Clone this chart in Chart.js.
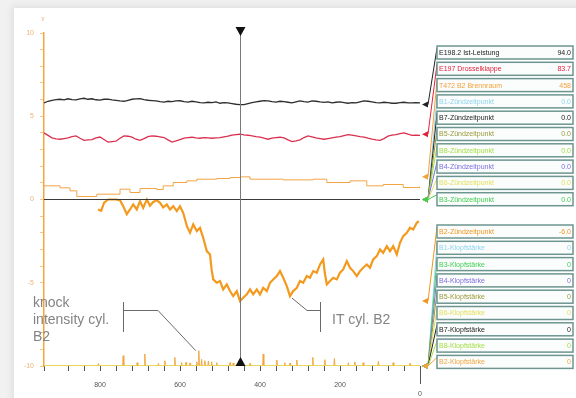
<!DOCTYPE html>
<html>
<head>
<meta charset="utf-8">
<script src="https://cdn.jsdelivr.net/npm/chart.js@4.4.1/dist/chart.umd.min.js"></script>
<style>
  html, body { margin: 0; padding: 0; background: #f1f1f1; }
  #card { position: absolute; left: 14px; top: 8px; width: 620px; height: 420px; background: #fff;
          box-shadow: -2px -2px 7px rgba(0,0,0,0.08); }
  #chart { position: absolute; left: 0; top: 0; }
</style>
</head>
<body>
<div id="card"></div>
<canvas id="chart" width="576" height="398"></canvas>
<script>
// E198.2 Ist-Leistung (black) and E197 Drosselklappe (red), sampled every 10 units
const powerX = [940, 930, 920, 910, 900, 890, 880, 870, 860, 850,
                840, 830, 820, 810, 800, 790, 780, 770, 760, 750,
                740, 730, 720, 710, 700, 690, 680, 670, 660, 650,
                640, 630, 620, 610, 600, 590, 580, 570, 560, 550,
                540, 530, 520, 510, 500, 490, 480, 470, 460, 450,
                440, 430, 420, 410, 400, 390, 380, 370, 360, 350,
                340, 330, 320, 310, 300, 290, 280, 270, 260, 250,
                240, 230, 220, 210, 200, 190, 180, 170, 160, 150,
                140, 130, 120, 110, 100, 90, 80, 70, 60, 50,
                40, 30, 20, 10, 0];
const powerY = [5.80, 5.90, 5.95, 6.00, 6.02, 5.98, 6.05, 6.00, 5.98, 6.04,
                6.08, 6.02, 6.05, 5.99, 5.97, 6.02, 6.03, 5.98, 5.95, 5.92,
                5.90, 5.96, 6.02, 6.04, 6.06, 6.00, 5.96, 5.94, 5.92, 5.88,
                5.85, 5.90, 5.88, 5.92, 5.93, 5.88, 5.85, 5.90, 5.86, 5.82,
                5.80, 5.84, 5.82, 5.86, 5.78, 5.82, 5.80, 5.76, 5.72, 5.70,
                5.70, 5.76, 5.82, 5.86, 5.90, 5.94, 5.92, 5.88, 5.85, 5.90,
                5.88, 5.84, 5.80, 5.86, 5.92, 5.88, 5.85, 5.92, 5.90, 5.86,
                5.83, 5.86, 5.80, 5.84, 5.86, 5.82, 5.78, 5.82, 5.80, 5.86,
                5.92, 5.90, 5.86, 5.82, 5.80, 5.84, 5.82, 5.78, 5.78, 5.82,
                5.84, 5.80, 5.80, 5.82, 5.80];
const throttleY = [4.00, 3.85, 3.70, 3.64, 3.62, 3.66, 3.70, 3.78, 3.82, 3.68,
                   3.55, 3.58, 3.60, 3.70, 3.75, 3.60, 3.45, 3.48, 3.50, 3.68,
                   3.82, 3.80, 3.75, 3.62, 3.55, 3.66, 3.78, 3.82, 3.80, 3.76,
                   3.72, 3.58, 3.45, 3.52, 3.60, 3.68, 3.72, 3.74, 3.70, 3.68,
                   3.72, 3.70, 3.68, 3.70, 3.72, 3.76, 3.80, 3.86, 3.90, 3.92,
                   3.88, 3.86, 3.82, 3.78, 3.75, 3.68, 3.62, 3.68, 3.72, 3.74,
                   3.70, 3.58, 3.48, 3.52, 3.58, 3.72, 3.82, 3.76, 3.70, 3.66,
                   3.62, 3.66, 3.70, 3.74, 3.78, 3.84, 3.90, 3.86, 3.82, 3.78,
                   3.75, 3.68, 3.62, 3.58, 3.55, 3.66, 3.80, 3.86, 3.90, 3.95,
                   4.00, 3.92, 3.85, 3.86, 3.85];

// T472 B2 Brennraum (stepped)
const chamberX = [940, 900, 875, 858, 808, 750, 725, 700, 658, 642, 617, 583, 558, 508, 475, 450, 425, 342, 267, 233, 175, 133, 92, 42, 0];
const chamberY = [0.82, 0.70, 0.52, 0.18, 0.32, 0.62, 0.42, 0.66, 0.60, 0.82, 1.02, 1.12, 1.22, 1.26, 1.32, 1.36, 1.22, 1.18, 1.22, 1.02, 1.12, 0.82, 0.90, 0.72, 0.80];

// B2-Zündzeitpunkt (IT cyl. B2)
const itX = [805, 797, 790, 780, 760, 750, 742, 733, 725, 717,
             708, 700, 692, 683, 675, 667, 658, 650, 642, 633,
             625, 617, 608, 600, 592, 583, 575, 567, 558, 550,
             542, 533, 525, 521, 517, 508, 500, 492, 483, 475,
             467, 458, 450, 442, 433, 425, 417, 408, 400, 392,
             383, 375, 367, 358, 350, 342, 333, 325, 317, 308,
             300, 292, 283, 275, 267, 258, 250, 242, 238, 233,
             225, 217, 208, 200, 192, 183, 175, 167, 158, 150,
             142, 133, 125, 117, 108, 100, 92, 83, 75, 67,
             58, 50, 42, 33, 25, 17, 8, 3];
const itY = [-0.60, -0.68, -0.20, 0.00, 0.00, -0.05, -0.40, -0.88, -0.60, -0.30,
             -0.60, -0.10, -0.50, 0.00, -0.38, -0.15, -0.05, -0.20, -0.48, -0.30,
             -0.60, -0.40, -0.70, -0.40, -0.80, -1.59, -2.00, -1.50, -1.90, -1.70,
             -2.30, -3.10, -3.30, -4.20, -4.80, -5.00, -4.90, -5.40, -5.10, -5.50,
             -5.80, -5.50, -6.10, -5.90, -5.70, -5.40, -5.70, -5.40, -5.70, -5.30,
             -5.50, -5.00, -4.80, -4.60, -4.30, -4.70, -5.20, -5.80, -5.50, -5.30,
             -4.90, -5.00, -4.60, -4.70, -4.30, -4.40, -3.90, -3.60, -4.40, -5.10,
             -4.90, -4.70, -4.80, -4.40, -4.20, -3.70, -4.10, -4.30, -4.60, -4.30,
             -4.10, -3.90, -4.10, -3.60, -3.40, -3.00, -3.20, -2.80, -3.10, -2.80,
             -3.30, -2.60, -2.20, -2.00, -1.70, -1.80, -1.40, -1.30];

// B2-Klopfstärke (knock intensity cyl. B2), spikes above the -10 baseline
const knockX = [804, 742, 707, 688, 654, 638, 613, 596, 585, 575, 558, 553, 546, 538, 529, 521, 508,
                475, 467, 425, 392, 358, 338, 325, 308, 268, 238, 214, 179, 163, 142, 104, 67, 25];
const knockY = [-9.85, -9.38, -9.80, -9.28, -9.85, -9.68, -9.48, -9.80, -9.78, -9.82, -9.75, -9.08, -9.60, -9.68, -9.70, -9.75, -9.80,
                -9.80, -9.82, -9.85, -9.28, -9.64, -9.80, -9.82, -9.64, -9.48, -9.62, -9.55, -9.80, -9.75, -9.80, -9.72, -9.80, -9.85];

// Zündzeitpunkt lines sitting at 0 and Klopfstärke lines at the bottom
const zeroX = [940, 0];
const zeroY = [0, 0];
const baseY = [-10, -10];

const cursorX = 450;

// legend panel
const legendTopNames = ['E198.2 Ist-Leistung', 'E197 Drosselklappe', 'T472 B2 Brennraum', 'B1-Zündzeitpunkt', 'B7-Zündzeitpunkt',
                        'B5-Zündzeitpunkt', 'B8-Zündzeitpunkt', 'B4-Zündzeitpunkt', 'B6-Zündzeitpunkt', 'B3-Zündzeitpunkt'];
const legendTopValues = ['94.0', '83.7', '458', '0.0', '0.0', '0.0', '0.0', '0.0', '0.0', '0.0'];
const legendTopColors = ['#222222', '#e0223e', '#f3a13c', '#8fd3ee', '#222222', '#9a9a3a', '#a6e04a', '#7b6fe0', '#e3e060', '#3fcf4f'];
const legendBottomNames = ['B2-Zündzeitpunkt', 'B1-Klopfstärke', 'B3-Klopfstärke', 'B4-Klopfstärke', 'B5-Klopfstärke',
                           'B6-Klopfstärke', 'B7-Klopfstärke', 'B8-Klopfstärke', 'B2-Klopfstärke'];
const legendBottomValues = ['-6.0', '0', '0', '0', '0', '0', '0', '0', '0'];
const legendBottomColors = ['#f0961e', '#8fd3ee', '#3fcf4f', '#7b6fe0', '#9a9a3a', '#e3e060', '#222222', '#a6e04a', '#f0a640'];

const toPoints = (xs, ys) => xs.map((x, i) => ({ x, y: ys[i] }));

// knock spikes: baseline -> peak -> baseline
const knockPoints = [{ x: 940, y: -10 }];
knockX.forEach((x, i) => {
    knockPoints.push({ x: x + 1.5, y: -10 }, { x, y: knockY[i] }, { x: x - 1.5, y: -10 });
});
knockPoints.push({ x: 0, y: -10 });

// value of a series at a given x (linear between samples)
const valueAt = (xs, ys, x) => {
    for (let i = 0; i < xs.length - 1; i++) {
        const a = xs[i], b = xs[i + 1];
        if ((x <= a && x >= b) || (x >= a && x <= b)) {
            const t = a === b ? 0 : (x - a) / (b - a);
            return ys[i] + t * (ys[i + 1] - ys[i]);
        }
    }
    return ys[ys.length - 1];
};

const topLevels = [valueAt(powerX, powerY, cursorX), valueAt(powerX, throttleY, cursorX), valueAt(chamberX, chamberY, cursorX),
                   0, 0, 0, 0, 0, 0, 0];
const bottomLevels = [valueAt(itX, itY, cursorX), -10, -10, -10, -10, -10, -10, -10, -10];

const overlay = {
    id: 'overlay',
    afterDraw(chart) {
        const c = chart.ctx;
        const xs = chart.scales.x, ys = chart.scales.y;
        const area = chart.chartArea;
        c.save();

        // tiny axis name
        c.fillStyle = '#e6a874';
        c.font = '6px "Liberation Sans"';
        c.textAlign = 'center';
        c.fillText('y', area.left - 1, 20);

        // long tick and label at 0
        const x0 = xs.getPixelForValue(0);
        c.strokeStyle = '#555';
        c.lineWidth = 1;
        c.beginPath();
        c.moveTo(x0 + 0.5, area.bottom + 4);
        c.lineTo(x0 + 0.5, area.bottom + 18);
        c.stroke();
        c.fillStyle = '#555';
        c.font = '7px "Liberation Sans"';
        c.fillText('0', x0, 396);

        // cursor
        const cx = Math.round(xs.getPixelForValue(cursorX)) + 0.5;
        c.strokeStyle = '#7a7a7a';
        c.beginPath();
        c.moveTo(cx, area.top - 5);
        c.lineTo(cx, area.bottom);
        c.stroke();
        c.fillStyle = '#111';
        c.beginPath();
        c.moveTo(cx - 5, area.top - 6); c.lineTo(cx + 5, area.top - 6); c.lineTo(cx, area.top + 3);
        c.closePath(); c.fill();
        c.beginPath();
        c.moveTo(cx - 5, area.bottom); c.lineTo(cx + 5, area.bottom); c.lineTo(cx, area.bottom - 9);
        c.closePath(); c.fill();

        // legend boxes with connectors and level markers
        const boxX = 437, boxW = 136, boxH = 13, pitch = 16.3;
        const drawGroup = (names, values, colors, levels, top) => {
            names.forEach((name, i) => {
                const by = top + i * pitch;
                const py = ys.getPixelForValue(levels[i]);
                c.strokeStyle = colors[i];
                c.lineWidth = 1;
                c.beginPath();
                c.moveTo(428, py);
                c.lineTo(boxX, by + 2);
                c.stroke();
                c.fillStyle = colors[i];
                c.beginPath();
                c.moveTo(422, py); c.lineTo(428, py - 3); c.lineTo(428, py + 3);
                c.closePath(); c.fill();

                c.fillStyle = '#fbfdfd';
                c.fillRect(boxX, by, boxW, boxH);
                c.strokeStyle = '#6d9590';
                c.lineWidth = 1.5;
                c.strokeRect(boxX, by, boxW, boxH);
                c.font = '7px "Liberation Sans"';
                c.fillStyle = colors[i];
                c.textBaseline = 'middle';
                c.textAlign = 'left';
                c.fillText(name, boxX + 2, by + boxH / 2 + 0.5);
                c.textAlign = 'right';
                c.fillText(values[i], boxX + boxW - 2, by + boxH / 2 + 0.5);
            });
        };
        drawGroup(legendTopNames, legendTopValues, legendTopColors, topLevels, 46);
        drawGroup(legendBottomNames, legendBottomValues, legendBottomColors, bottomLevels, 225);

        // annotations
        c.textBaseline = 'alphabetic';
        c.textAlign = 'left';
        c.fillStyle = '#848484';
        c.font = '14px "Liberation Sans"';
        c.fillText('knock', 33, 307);
        c.fillText('intensity cyl.', 33, 324);
        c.fillText('B2', 33, 341);
        c.fillText('IT cyl. B2', 332, 324);

        c.strokeStyle = '#6a6a6a';
        c.lineWidth = 1;
        const kx = xs.getPixelForValue(553), ky = ys.getPixelForValue(-9.08);
        c.beginPath();
        c.moveTo(123.5, 302); c.lineTo(123.5, 332);
        c.moveTo(123.5, 310.5); c.lineTo(158, 310.5); c.lineTo(kx - 3, ky);
        c.stroke();
        const ix = xs.getPixelForValue(325), iy = ys.getPixelForValue(-5.8);
        c.beginPath();
        c.moveTo(320.5, 302); c.lineTo(320.5, 332);
        c.moveTo(320.5, 310.5); c.lineTo(307, 310.5); c.lineTo(ix + 2, iy + 2);
        c.stroke();

        c.restore();
    }
};

const ctx = document.getElementById('chart').getContext('2d');
new Chart(ctx, {
    type: 'line',
    data: {
        datasets: [
            { label: 'B7-Zündzeitpunkt', data: toPoints(zeroX, zeroY), borderColor: '#3a3a3a', borderWidth: 1 },
            { label: 'E198.2 Ist-Leistung', data: toPoints(powerX, powerY), borderColor: '#2e2e2e', borderWidth: 1.3 },
            { label: 'E197 Drosselklappe', data: toPoints(powerX, throttleY), borderColor: '#d9304f', borderWidth: 1.3 },
            { label: 'T472 B2 Brennraum', data: toPoints(chamberX, chamberY), borderColor: '#f2a446', borderWidth: 1, stepped: true },
            { label: 'B2-Zündzeitpunkt', data: toPoints(itX, itY), borderColor: '#f39a1e', borderWidth: 2.2 },
            { label: 'B6-Klopfstärke', data: toPoints(zeroX, baseY), borderColor: '#e6d64a', borderWidth: 1.5 },
            { label: 'B2-Klopfstärke', data: knockPoints, borderColor: '#f0a640', borderWidth: 1 }
        ]
    },
    options: {
        responsive: false,
        animation: false,
        layout: { padding: { left: 14, right: 156, top: 33, bottom: 8 } },
        plugins: { legend: { display: false }, tooltip: { enabled: false } },
        elements: { point: { radius: 0 }, line: { tension: 0 } },
        scales: {
            x: {
                type: 'linear',
                reverse: true,
                min: 0,
                max: 940,
                border: { display: false },
                grid: { drawOnChartArea: false, tickLength: 5, tickColor: '#555' },
                ticks: {
                    stepSize: 40, autoSkip: false, maxRotation: 0, padding: 10, color: '#555',
                    font: { size: 7, family: 'Liberation Sans' },
                    callback: v => (v !== 0 && v % 200 === 0 ? v : '')
                },
                afterFit: s => { s.height = 24; }
            },
            y: {
                min: -10,
                max: 10,
                border: { color: '#f5a53a', width: 1.5 },
                grid: { drawOnChartArea: false, tickLength: 4, tickColor: '#f7c48a' },
                ticks: {
                    stepSize: 1, autoSkip: false, padding: 6, color: '#f0b27a',
                    font: { size: 7, family: 'Liberation Sans' },
                    callback: v => (v % 5 === 0 ? v : '')
                },
                afterFit: s => { s.width = 30; }
            }
        }
    },
    plugins: [overlay]
});
</script>
</body>
</html>
